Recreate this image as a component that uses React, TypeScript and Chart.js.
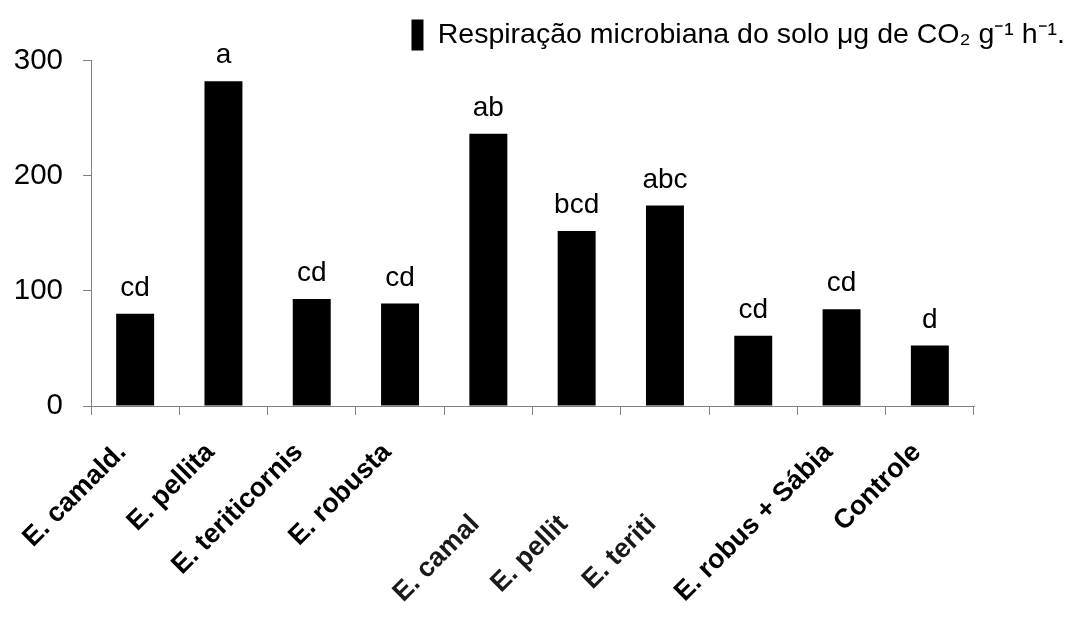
import React, { useEffect, useRef } from 'react';
import { Chart, registerables } from 'chart.js';

Chart.register(...registerables);

// ---- data ----
const categories = [
  'E. camald.',
  'E. pellita',
  'E. teriticornis',
  'E. robusta',
  'E. camal',
  'E. pellit',
  'E. teriti',
  '',
  'E. robus + Sábia',
  'Controle',
];
const values = [80, 282, 93, 89, 236.5, 152, 174, 61, 84, 52.5];
const letters = ['cd', 'a', 'cd', 'cd', 'ab', 'bcd', 'abc', 'cd', 'cd', 'd'];
const legendLabel = 'Respiração microbiana do solo μg de CO₂ g⁻¹ h⁻¹.';
const yMin = 0;
const yMax = 300;
const yStep = 100;

// ---- style ----
const FONT = "'Liberation Sans', Arial, Helvetica, sans-serif";
const labelDrop = [0, 0, 0, 0, 72, 72, 72, 0, 0, 0];

export default function App() {
  const ref = useRef<HTMLCanvasElement>(null);

  useEffect(() => {
    document.body.style.margin = '0';
    const canvas = ref.current;
    if (!canvas) return;

    const letterPlugin = {
      id: 'letters',
      afterDatasetsDraw(chart: any) {
        const ctx = chart.ctx;
        const meta = chart.getDatasetMeta(0);
        ctx.save();
        ctx.font = `28px ${FONT}`;
        ctx.fillStyle = '#000';
        ctx.textAlign = 'center';
        ctx.textBaseline = 'alphabetic';
        meta.data.forEach((bar: any, i: number) => {
          ctx.fillText(letters[i], bar.x, bar.y - 18);
        });
        ctx.restore();
      },
    };

    const xLabelPlugin = {
      id: 'xlabels',
      afterDraw(chart: any) {
        const scale = chart.scales.x;
        const ctx = chart.ctx;
        ctx.save();
        ctx.font = `bold 27px ${FONT}`;
        ctx.textAlign = 'right';
        ctx.textBaseline = 'middle';
        scale.ticks.forEach((_t: any, i: number) => {
          const x = scale.getPixelForTick(i) - 13;
          const y = scale.top + 42 + labelDrop[i];
          ctx.save();
          ctx.translate(x, y);
          ctx.rotate(-Math.PI / 4);
          ctx.fillStyle = labelDrop[i] ? '#1a1a1a' : '#000';
          ctx.fillText(categories[i], 0, 0);
          ctx.restore();
        });
        ctx.restore();
      },
    };

    const chart = new Chart(canvas, {
      type: 'bar',
      data: {
        labels: categories,
        datasets: [
          {
            label: legendLabel,
            data: values,
            backgroundColor: '#000',
            borderWidth: 0,
            barPercentage: 0.43,
            categoryPercentage: 1,
            yAxisID: 'y',
          },
        ],
      },
      options: {
        responsive: false,
        animation: false,
        devicePixelRatio: 1,
        layout: { padding: { top: 9.5, right: -4, bottom: 0, left: 0 } },
        plugins: {
          tooltip: { enabled: false },
          legend: {
            display: true,
            position: 'top',
            align: 'end',
            labels: {
              color: '#000',
              boxWidth: 12,
              boxHeight: 31,
              padding: 10,
              font: { family: FONT, size: 28.5 },
            },
          },
        },
        scales: {
          x: {
            type: 'category',
            offset: true,
            grid: {
              display: true,
              offset: true,
              drawOnChartArea: false,
              drawTicks: true,
              tickLength: 9,
              color: '#808080',
            },
            border: { display: true, color: '#808080', width: 1 },
            ticks: { display: false },
            afterFit: (s: any) => {
              s.height = 211;
            },
          },
          y: {
            type: 'linear',
            position: 'left',
            min: yMin,
            max: yMax,
            grid: {
              display: true,
              drawOnChartArea: false,
              drawTicks: true,
              tickLength: 8,
              color: '#808080',
            },
            border: { display: true, color: '#808080', width: 1 },
            ticks: {
              stepSize: yStep,
              color: '#000',
              padding: 20,
              font: { family: FONT, size: 29.5 },
            },
            afterFit: (s: any) => {
              s.width = 91;
            },
          },
          yR: {
            type: 'linear',
            position: 'right',
            display: true,
            grid: { display: false, drawTicks: false },
            border: { display: false },
            ticks: { display: false },
            afterFit: (s: any) => {
              s.width = 101;
            },
          },
        },
      },
      plugins: [letterPlugin, xLabelPlugin],
    } as any);

    return () => {
      chart.destroy();
    };
  }, []);

  return (
    <div style={{ position: 'fixed', left: 0, top: 0, width: 1071, height: 617, background: '#fff' }}>
      <canvas ref={ref} width={1071} height={617} />
    </div>
  );
}
